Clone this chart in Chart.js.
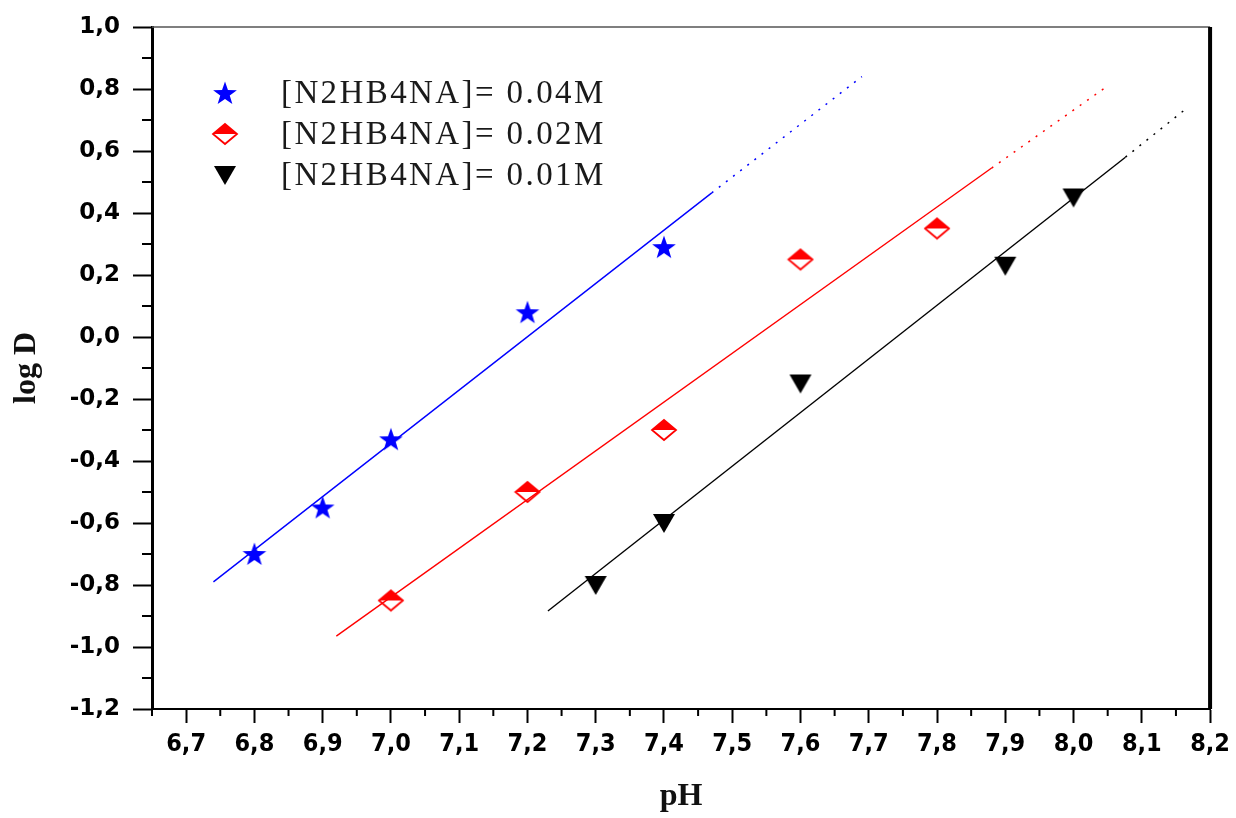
<!DOCTYPE html>
<html>
<head>
<meta charset="utf-8">
<title>log D vs pH</title>
<script src="https://cdn.jsdelivr.net/npm/chart.js@4/dist/chart.umd.min.js"></script>
<style>
    body { margin: 0; background: #fff; }
    canvas { display: block; }
</style>
</head>
<body>
<canvas id="chart" width="1236" height="818"></canvas>
<script>
// measured points
const phBlue = [6.8, 6.9, 7.0, 7.2, 7.4];
const logBlue = [-0.70, -0.55, -0.33, 0.08, 0.29];
const phRed = [7.0, 7.2, 7.4, 7.6, 7.8];
const logRed = [-0.85, -0.50, -0.30, 0.25, 0.35];
const phBlack = [7.3, 7.4, 7.6, 7.9, 8.0];
const logBlack = [-0.80, -0.60, -0.15, 0.23, 0.45];

// fitted lines: solid part then dotted extension
const fitBlueX = [6.74, 7.47, 7.69];
const fitBlueY = [-0.79, 0.465, 0.84];
const fitRedX = [6.92, 7.88, 8.05];
const fitRedY = [-0.965, 0.545, 0.81];
const fitBlackX = [7.23, 8.076, 8.164];
const fitBlackY = [-0.884, 0.58, 0.735];

const legendLabels = ['[N2HB4NA]= 0.04M', '[N2HB4NA]= 0.02M', '[N2HB4NA]= 0.01M'];
const xTicks = [6.7, 6.8, 6.9, 7.0, 7.1, 7.2, 7.3, 7.4, 7.5, 7.6, 7.7, 7.8, 7.9, 8.0, 8.1, 8.2];
const yTicks = [-1.2, -1.0, -0.8, -0.6, -0.4, -0.2, 0.0, 0.2, 0.4, 0.6, 0.8, 1.0];

const fmt = v => Number(v).toFixed(1).replace('.', ',');
const pts = (xs, ys) => xs.map((x, i) => ({ x: x, y: ys[i] }));

// marker images
function makeStar(color) {
    const c = document.createElement('canvas');
    c.width = 26; c.height = 26;
    const g = c.getContext('2d');
    g.fillStyle = color;
    g.beginPath();
    for (let i = 0; i < 10; i++) {
        const r = i % 2 ? 5 : 12.5;
        const a = -Math.PI / 2 + i * Math.PI / 5;
        const px = 13 + r * Math.cos(a), py = 14 + r * Math.sin(a);
        if (i === 0) g.moveTo(px, py); else g.lineTo(px, py);
    }
    g.closePath();
    g.fill();
    return c;
}

function makeHalfDiamond(color) {
    const c = document.createElement('canvas');
    c.width = 28; c.height = 24;
    const g = c.getContext('2d');
    g.fillStyle = color;
    g.strokeStyle = color;
    g.lineWidth = 1.8;
    g.beginPath();
    g.moveTo(2, 12); g.lineTo(14, 2); g.lineTo(26, 12);
    g.closePath();
    g.fill();
    g.beginPath();
    g.moveTo(14, 2); g.lineTo(26, 12); g.lineTo(14, 22); g.lineTo(2, 12);
    g.closePath();
    g.stroke();
    return c;
}

function makeTriangleDown(color) {
    const c = document.createElement('canvas');
    c.width = 24; c.height = 22;
    const g = c.getContext('2d');
    g.fillStyle = color;
    g.beginPath();
    g.moveTo(1, 2); g.lineTo(23, 2); g.lineTo(12, 21);
    g.closePath();
    g.fill();
    return c;
}

const starImg = makeStar('#0000ff');
const diamondImg = makeHalfDiamond('#ff0000');
const triImg = makeTriangleDown('#000000');
const markers = [starImg, diamondImg, triImg];

function scatterSet(label, xs, ys, img) {
    return {
        label: label,
        data: pts(xs, ys),
        pointStyle: img,
        pointRadius: 11,
        showLine: false,
        order: 0
    };
}

function fitSets(xs, ys, color) {
    return [{
        data: pts(xs.slice(0, 2), ys.slice(0, 2)),
        showLine: true,
        borderColor: color,
        borderWidth: 1.4,
        pointRadius: 0,
        order: 1
    }, {
        data: pts(xs.slice(1), ys.slice(1)),
        showLine: true,
        borderColor: color,
        borderWidth: 1.5,
        borderDash: [2, 7],
        pointRadius: 0,
        order: 1
    }];
}

// frame on top/right and the minor ticks
const framePlugin = {
    id: 'frame',
    afterDraw(chart) {
        const { ctx, chartArea } = chart;
        const xs = chart.scales.x, ys = chart.scales.y;
        ctx.save();
        ctx.strokeStyle = '#000';
        ctx.lineWidth = 2;
        ctx.beginPath();
        const xMinor = [xTicks[0] - 0.05].concat(xTicks.slice(1).map((v, i) => (v + xTicks[i]) / 2));
        xMinor.forEach(v => {
            const px = xs.getPixelForValue(v);
            ctx.moveTo(px, chartArea.bottom);
            ctx.lineTo(px, chartArea.bottom + 7);
        });
        const yMinor = yTicks.slice(1).map((v, i) => (v + yTicks[i]) / 2);
        yMinor.forEach(v => {
            const py = ys.getPixelForValue(v);
            ctx.moveTo(chartArea.left - 10, py);
            ctx.lineTo(chartArea.left, py);
        });
        ctx.stroke();

        // thin top border, heavy right border
        ctx.strokeStyle = '#555';
        ctx.lineWidth = 1.5;
        ctx.beginPath();
        ctx.moveTo(chartArea.left, chartArea.top);
        ctx.lineTo(chartArea.right, chartArea.top);
        ctx.stroke();
        ctx.strokeStyle = '#000';
        ctx.lineWidth = 4;
        ctx.beginPath();
        ctx.moveTo(chartArea.right, chartArea.top);
        ctx.lineTo(chartArea.right, chartArea.bottom);
        ctx.stroke();
        ctx.restore();
    }
};

const legendPlugin = {
    id: 'insideLegend',
    afterDraw(chart) {
        const ctx = chart.ctx;
        ctx.save();
        ctx.font = '33px "Liberation Serif"';
        ctx.letterSpacing = '2.4px';
        ctx.fillStyle = '#1a1a1a';
        ctx.textBaseline = 'middle';
        legendLabels.forEach((txt, i) => {
            const y = 93 + i * 41;
            const img = markers[i];
            ctx.drawImage(img, 225 - img.width / 2, y - img.height / 2);
            ctx.fillText(txt, 281, y + 1);
        });
        ctx.restore();
    }
};

const tickFontY = { family: 'DejaVu Sans', weight: 'bold', size: 23 };
const tickFontX = { family: 'DejaVu Sans Condensed', weight: 'bold', size: 25 };
const titleFont = { family: 'Liberation Serif', weight: 'bold', size: 32 };

new Chart(document.getElementById('chart'), {
    type: 'scatter',
    data: {
        datasets: [
            scatterSet(legendLabels[0], phBlue, logBlue, starImg),
            scatterSet(legendLabels[1], phRed, logRed, diamondImg),
            scatterSet(legendLabels[2], phBlack, logBlack, triImg),
            ...fitSets(fitBlueX, fitBlueY, '#0000ff'),
            ...fitSets(fitRedX, fitRedY, '#ff0000'),
            ...fitSets(fitBlackX, fitBlackY, '#000000')
        ]
    },
    options: {
        responsive: false,
        animation: false,
        events: [],
        layout: { padding: { top: 27, right: 25, left: 0, bottom: 0 } },
        plugins: { legend: { display: false }, tooltip: { enabled: false } },
        scales: {
            x: {
                type: 'linear',
                min: 6.65,
                max: 8.2,
                afterBuildTicks: s => { s.ticks = xTicks.map(v => ({ value: v })); },
                afterFit: s => { s.height = 109; },
                ticks: { callback: fmt, font: tickFontX, color: '#000', padding: 6, maxRotation: 0, autoSkip: false },
                grid: { drawOnChartArea: false, tickLength: 14, tickWidth: 2, tickColor: '#000' },
                border: { width: 2, color: '#000' },
                title: { display: true, text: 'pH', font: titleFont, color: '#111', padding: { top: 0, bottom: 2 } }
            },
            y: {
                min: -1.2,
                max: 1.0,
                afterBuildTicks: s => { s.ticks = yTicks.map(v => ({ value: v })); },
                afterFit: s => { s.width = 152; },
                ticks: { callback: fmt, font: tickFontY, color: '#000', padding: 13, autoSkip: false },
                grid: { drawOnChartArea: false, tickLength: 19, tickWidth: 2, tickColor: '#000' },
                border: { width: 3, color: '#000' },
                title: { display: true, text: 'log D', font: titleFont, color: '#111', padding: { top: 8, bottom: 0 } }
            }
        }
    },
    plugins: [framePlugin, legendPlugin]
});
</script>
</body>
</html>
